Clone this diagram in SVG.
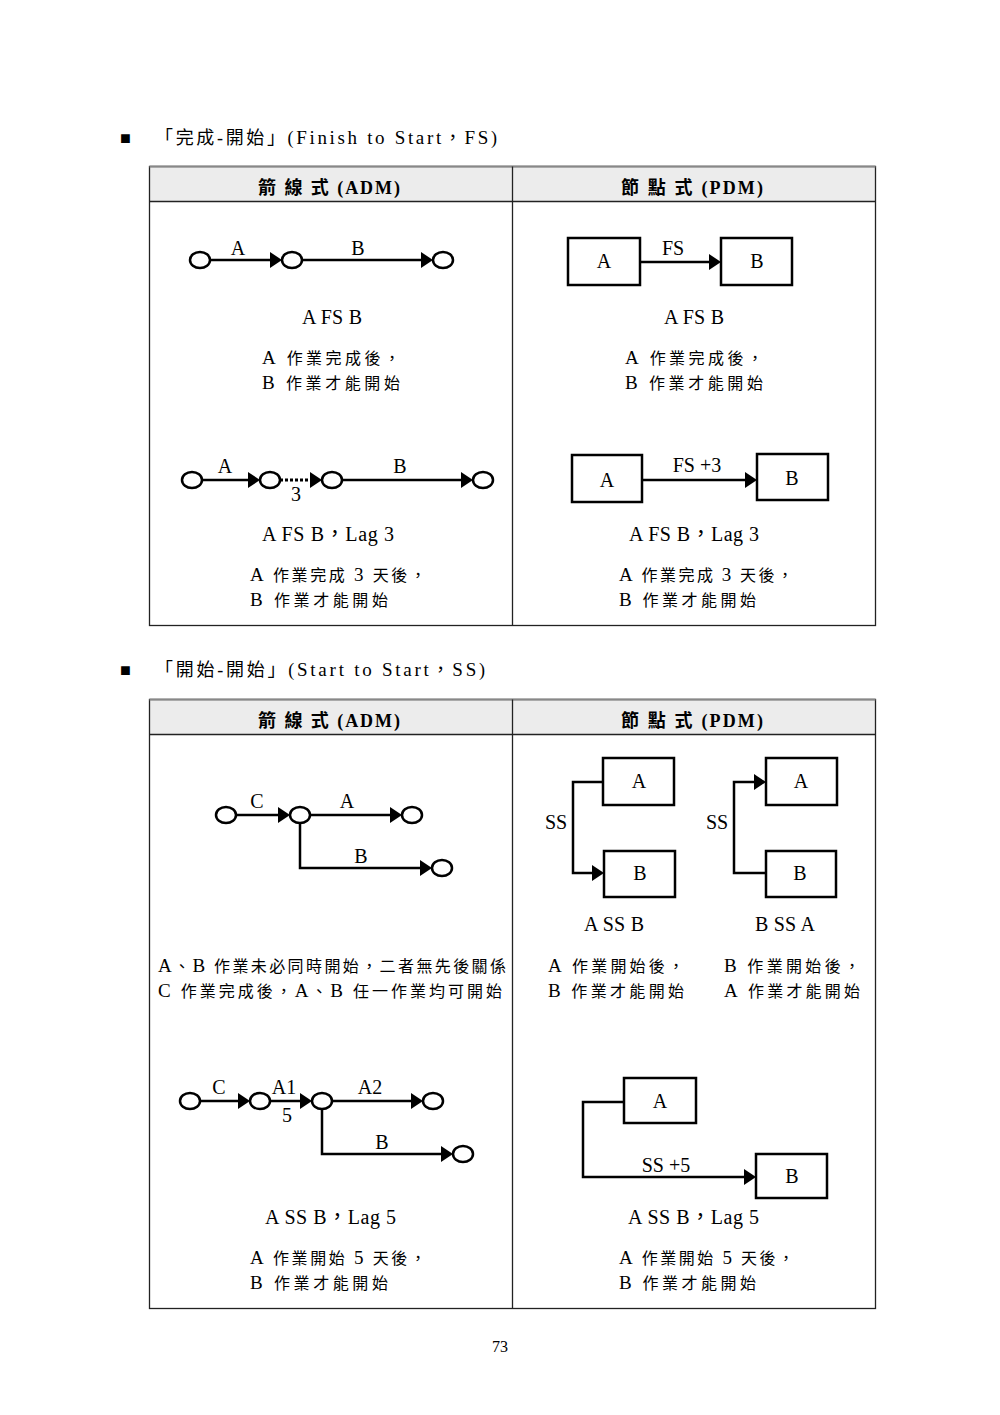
<svg xmlns="http://www.w3.org/2000/svg" width="1000" height="1415" viewBox="0 0 1000 1415">
<style>
  text { font-family: "Liberation Serif", "Noto Sans CJK TC", serif; fill: #000; }
  .lbl { font-size: 20px; text-anchor: middle; }
  .zh { font-size: 16px; }
  .la { font-size: 19px; }
  .ttl { font-size: 18px; }
  .hdr { font-size: 18px; font-weight: bold; }
  .node { fill: #fff; stroke: #000; stroke-width: 2.5; }
  .box { fill: #fff; stroke: #000; stroke-width: 2.5; }
  .ln { fill: none; stroke: #000; stroke-width: 2.5; }
  .dot { fill: none; stroke: #000; stroke-width: 3; stroke-dasharray: 3 2; }
  .grid { fill: none; stroke: #222; stroke-width: 1.3; }
  .hfill { fill: #ececec; }
</style>
<defs>
  <marker id="arr" markerUnits="userSpaceOnUse" markerWidth="13" markerHeight="17" refX="6" refY="8" orient="auto">
    <path d="M0,0 L12,8 L0,16 Z" fill="#000"/>
  </marker>
</defs>
<rect width="1000" height="1415" fill="#fff"/>

<!-- Section 1 title -->
<g id="title1">
  <text x="120" y="144" class="ttl">■</text>
  <text x="155" y="144" class="ttl" textLength="342" lengthAdjust="spacing">「完成-開始」(<tspan class="la">Finish to Start</tspan>，<tspan class="la">FS</tspan>)</text>
</g>

<!-- Table 1 -->
<g id="table1">
  <rect x="149.5" y="166.5" width="726" height="35" class="hfill"/>
  <rect x="149.5" y="166.5" width="726" height="459" class="grid"/>
  <line x1="149.5" y1="166.5" x2="875.5" y2="166.5" stroke="#888" stroke-width="2"/>
  <line x1="149.5" y1="201.5" x2="875.5" y2="201.5" class="grid"/>
  <line x1="512.5" y1="166.5" x2="512.5" y2="625.5" class="grid"/>
  <text x="258" y="194" class="hdr" textLength="142" lengthAdjust="spacing">箭 線 式 (ADM)</text>
  <text x="621" y="194" class="hdr" textLength="142" lengthAdjust="spacing">節 點 式 (PDM)</text>
</g>

<!-- Connectors -->
<g id="connectors">
  <path d="M210,260 H276" class="ln" marker-end="url(#arr)"/>
  <path d="M302,260 H427" class="ln" marker-end="url(#arr)"/>
  <path d="M640,262 H715" class="ln" marker-end="url(#arr)"/>
  <path d="M202,480 H254" class="ln" marker-end="url(#arr)"/>
  <path d="M280,480 H316" class="dot" marker-end="url(#arr)"/>
  <path d="M342,480 H467" class="ln" marker-end="url(#arr)"/>
  <path d="M642,480 H751" class="ln" marker-end="url(#arr)"/>
  <path d="M236,815 H284" class="ln" marker-end="url(#arr)"/>
  <path d="M310,815 H396" class="ln" marker-end="url(#arr)"/>
  <path d="M300,823 V868 H426" class="ln" marker-end="url(#arr)"/>
  <path d="M603,782 H573 V873 H598" class="ln" marker-end="url(#arr)"/>
  <path d="M766,873 H734 V782 H760" class="ln" marker-end="url(#arr)"/>
  <path d="M200,1101 H244" class="ln" marker-end="url(#arr)"/>
  <path d="M270,1101 H306" class="ln" marker-end="url(#arr)"/>
  <path d="M332,1101 H417" class="ln" marker-end="url(#arr)"/>
  <path d="M322,1109 V1154 H447" class="ln" marker-end="url(#arr)"/>
  <path d="M624,1102 H583 V1177 H750" class="ln" marker-end="url(#arr)"/>
</g>

<!-- S1 R1 ADM -->
<g id="s1r1-adm">
  <ellipse cx="200" cy="260" rx="10" ry="8" class="node"/>
  <ellipse cx="292" cy="260" rx="10" ry="8" class="node"/>
  <ellipse cx="443" cy="260" rx="10" ry="8" class="node"/>
  <text x="238" y="255" class="lbl">A</text>
  <text x="358" y="255" class="lbl">B</text>
  <text x="302" y="324" class="lbl" textLength="60" lengthAdjust="spacing" style="text-anchor:start">A FS B</text>
  <text x="262" y="364" class="zh" textLength="138" lengthAdjust="spacing"><tspan class="la">A</tspan> 作業完成後，</text>
  <text x="262" y="389" class="zh" textLength="138" lengthAdjust="spacing"><tspan class="la">B</tspan> 作業才能開始</text>
</g>

<!-- S1 R1 PDM -->
<g id="s1r1-pdm">
  <g id="p1a"><rect x="568" y="238" width="72" height="47" class="box"/><text x="604" y="268" class="lbl">A</text></g>
  <g id="p1b"><rect x="721" y="238" width="71" height="47" class="box"/><text x="757" y="268" class="lbl">B</text></g>
  <text x="673" y="255" class="lbl">FS</text>
  <text x="664" y="324" class="lbl" textLength="60" lengthAdjust="spacing" style="text-anchor:start">A FS B</text>
  <text x="625" y="364" class="zh" textLength="138" lengthAdjust="spacing"><tspan class="la">A</tspan> 作業完成後，</text>
  <text x="625" y="389" class="zh" textLength="138" lengthAdjust="spacing"><tspan class="la">B</tspan> 作業才能開始</text>
</g>

<!-- S1 R2 ADM -->
<g id="s1r2-adm">
  <ellipse cx="192" cy="480" rx="10" ry="8" class="node"/>
  <ellipse cx="270" cy="480" rx="10" ry="8" class="node"/>
  <ellipse cx="332" cy="480" rx="10" ry="8" class="node"/>
  <ellipse cx="483" cy="480" rx="10" ry="8" class="node"/>
  <text x="225" y="473" class="lbl">A</text>
  <text x="296" y="501" class="lbl">3</text>
  <text x="400" y="473" class="lbl">B</text>
  <text x="262" y="541" class="lbl" textLength="132" lengthAdjust="spacing" style="text-anchor:start">A FS B，Lag 3</text>
  <text x="250" y="581" class="zh" textLength="176" lengthAdjust="spacing"><tspan class="la">A</tspan> 作業完成 <tspan class="la">3</tspan> 天後，</text>
  <text x="250" y="606" class="zh" textLength="138" lengthAdjust="spacing"><tspan class="la">B</tspan> 作業才能開始</text>
</g>

<!-- S1 R2 PDM -->
<g id="s1r2-pdm">
  <g id="p2a"><rect x="572" y="455" width="70" height="47" class="box"/><text x="607" y="487" class="lbl">A</text></g>
  <g id="p2b"><rect x="757" y="454" width="71" height="46" class="box"/><text x="792" y="485" class="lbl">B</text></g>
  <text x="697" y="472" class="lbl">FS +3</text>
  <text x="629" y="541" class="lbl" textLength="130" lengthAdjust="spacing" style="text-anchor:start">A FS B，Lag 3</text>
  <text x="619" y="581" class="zh" textLength="174" lengthAdjust="spacing"><tspan class="la">A</tspan> 作業完成 <tspan class="la">3</tspan> 天後，</text>
  <text x="619" y="606" class="zh" textLength="137" lengthAdjust="spacing"><tspan class="la">B</tspan> 作業才能開始</text>
</g>

<!-- Section 2 title -->
<g id="title2">
  <text x="120" y="676" class="ttl">■</text>
  <text x="155" y="676" class="ttl" textLength="330" lengthAdjust="spacing">「開始-開始」(<tspan class="la">Start to Start</tspan>，<tspan class="la">SS</tspan>)</text>
</g>

<!-- Table 2 -->
<g id="table2">
  <rect x="149.5" y="699.5" width="726" height="35" class="hfill"/>
  <rect x="149.5" y="699.5" width="726" height="609" class="grid"/>
  <line x1="149.5" y1="699.5" x2="875.5" y2="699.5" stroke="#888" stroke-width="2"/>
  <line x1="149.5" y1="734.5" x2="875.5" y2="734.5" class="grid"/>
  <line x1="512.5" y1="699.5" x2="512.5" y2="1308.5" class="grid"/>
  <text x="258" y="727" class="hdr" textLength="142" lengthAdjust="spacing">箭 線 式 (ADM)</text>
  <text x="621" y="727" class="hdr" textLength="142" lengthAdjust="spacing">節 點 式 (PDM)</text>
</g>

<!-- S2 R1 ADM -->
<g id="s2r1-adm">
  <ellipse cx="226" cy="815" rx="10" ry="8" class="node"/>
  <ellipse cx="300" cy="815" rx="10" ry="8" class="node"/>
  <ellipse cx="412" cy="815" rx="10" ry="8" class="node"/>
  <ellipse cx="442" cy="868" rx="10" ry="8" class="node"/>
  <text x="257" y="808" class="lbl">C</text>
  <text x="347" y="808" class="lbl">A</text>
  <text x="361" y="863" class="lbl">B</text>
  <text x="158" y="972" class="zh" textLength="348" lengthAdjust="spacing"><tspan class="la">A</tspan>、<tspan class="la">B</tspan> 作業未必同時開始，二者無先後關係</text>
  <text x="158" y="997" class="zh" textLength="344" lengthAdjust="spacing"><tspan class="la">C</tspan> 作業完成後，<tspan class="la">A</tspan>、<tspan class="la">B</tspan> 任一作業均可開始</text>
</g>

<!-- S2 R1 PDM -->
<g id="s2r1-pdm">
  <g id="p3a"><rect x="603" y="758" width="71" height="47" class="box"/><text x="639" y="788" class="lbl">A</text></g>
  <g id="p3b"><rect x="604" y="851" width="71" height="46" class="box"/><text x="640" y="880" class="lbl">B</text></g>
  <text x="556" y="829" class="lbl">SS</text>
  <g id="p4a"><rect x="766" y="758" width="71" height="47" class="box"/><text x="801" y="788" class="lbl">A</text></g>
  <g id="p4b"><rect x="766" y="851" width="70" height="46" class="box"/><text x="800" y="880" class="lbl">B</text></g>
  <text x="717" y="829" class="lbl">SS</text>
  <text x="584" y="931" class="lbl" textLength="60" lengthAdjust="spacing" style="text-anchor:start">A SS B</text>
  <text x="755" y="931" class="lbl" textLength="60" lengthAdjust="spacing" style="text-anchor:start">B SS A</text>
  <text x="548" y="972" class="zh" textLength="136" lengthAdjust="spacing"><tspan class="la">A</tspan> 作業開始後，</text>
  <text x="548" y="997" class="zh" textLength="136" lengthAdjust="spacing"><tspan class="la">B</tspan> 作業才能開始</text>
  <text x="724" y="972" class="zh" textLength="136" lengthAdjust="spacing"><tspan class="la">B</tspan> 作業開始後，</text>
  <text x="724" y="997" class="zh" textLength="136" lengthAdjust="spacing"><tspan class="la">A</tspan> 作業才能開始</text>
</g>

<!-- S2 R2 ADM -->
<g id="s2r2-adm">
  <ellipse cx="190" cy="1101" rx="10" ry="8" class="node"/>
  <ellipse cx="260" cy="1101" rx="10" ry="8" class="node"/>
  <ellipse cx="322" cy="1101" rx="10" ry="8" class="node"/>
  <ellipse cx="433" cy="1101" rx="10" ry="8" class="node"/>
  <ellipse cx="463" cy="1154" rx="10" ry="8" class="node"/>
  <text x="219" y="1094" class="lbl">C</text>
  <text x="284" y="1094" class="lbl">A1</text>
  <text x="287" y="1122" class="lbl">5</text>
  <text x="370" y="1094" class="lbl">A2</text>
  <text x="382" y="1149" class="lbl">B</text>
  <text x="265" y="1224" class="lbl" textLength="131" lengthAdjust="spacing" style="text-anchor:start">A SS B，Lag 5</text>
  <text x="250" y="1264" class="zh" textLength="176" lengthAdjust="spacing"><tspan class="la">A</tspan> 作業開始 <tspan class="la">5</tspan> 天後，</text>
  <text x="250" y="1289" class="zh" textLength="138" lengthAdjust="spacing"><tspan class="la">B</tspan> 作業才能開始</text>
</g>

<!-- S2 R2 PDM -->
<g id="s2r2-pdm">
  <g id="p5a"><rect x="624" y="1078" width="72" height="45" class="box"/><text x="660" y="1108" class="lbl">A</text></g>
  <g id="p5b"><rect x="756" y="1154" width="71" height="44" class="box"/><text x="792" y="1183" class="lbl">B</text></g>
  <text x="666" y="1172" class="lbl">SS +5</text>
  <text x="628" y="1224" class="lbl" textLength="131" lengthAdjust="spacing" style="text-anchor:start">A SS B，Lag 5</text>
  <text x="619" y="1264" class="zh" textLength="175" lengthAdjust="spacing"><tspan class="la">A</tspan> 作業開始 <tspan class="la">5</tspan> 天後，</text>
  <text x="619" y="1289" class="zh" textLength="137" lengthAdjust="spacing"><tspan class="la">B</tspan> 作業才能開始</text>
</g>

<text x="500" y="1352" font-size="16" text-anchor="middle">73</text>
</svg>
